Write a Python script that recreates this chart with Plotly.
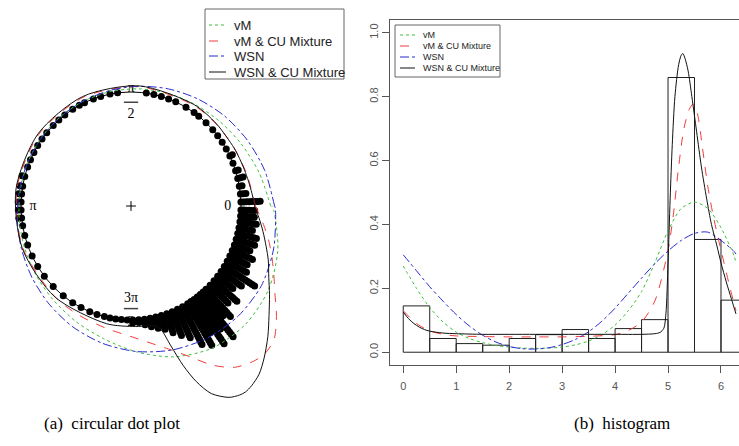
import math
import plotly.graph_objects as go

# ---------------- data ----------------
# histogram (bins of width 0.5 starting at 0)
bin_left = [0.0, 0.5, 1.0, 1.5, 2.0, 2.5, 3.0, 3.5, 4.0, 4.5, 5.0, 5.5, 6.0]
bin_density = [0.145, 0.043, 0.027, 0.022, 0.043, 0.055, 0.071, 0.043, 0.074, 0.102, 0.86, 0.353, 0.163]
bin_width = 0.5

# fitted densities (angle in radians, density)
vm_theta = [0, 0.25, 0.5, 0.75, 1.0, 1.25, 1.5, 1.75, 2.0, 2.25, 2.5, 2.75, 3.0, 3.25, 3.5, 3.75, 4.0,
            4.25, 4.5, 4.75, 5.0, 5.25, 5.5, 5.75, 6.0, 6.25, 6.283]
vm_dens = [0.27, 0.2, 0.14, 0.095, 0.063, 0.043, 0.03, 0.021, 0.016, 0.013, 0.012, 0.013, 0.016, 0.023,
           0.035, 0.055, 0.085, 0.13, 0.19, 0.28, 0.38, 0.45, 0.47, 0.45, 0.39, 0.3, 0.28]

vmcu_theta = [0, 0.25, 0.5, 0.75, 1.0, 1.5, 2.0, 2.5, 3.0, 3.5, 4.0, 4.25, 4.5, 4.75, 5.0, 5.1, 5.2, 5.3,
              5.4, 5.47, 5.55, 5.65, 5.75, 5.85, 5.95, 6.05, 6.15, 6.25, 6.283]
vmcu_dens = [0.13, 0.09, 0.067, 0.056, 0.051, 0.049, 0.048, 0.048, 0.048, 0.05, 0.055, 0.068, 0.095, 0.16,
             0.32, 0.43, 0.58, 0.7, 0.76, 0.776, 0.75, 0.64, 0.52, 0.43, 0.355, 0.285, 0.215, 0.15, 0.13]

wsn_theta = [0, 0.25, 0.5, 0.75, 1.0, 1.25, 1.5, 1.75, 2.0, 2.25, 2.5, 2.75, 3.0, 3.25, 3.5, 3.75, 4.0,
             4.25, 4.5, 4.75, 5.0, 5.25, 5.5, 5.75, 6.0, 6.25, 6.283]
wsn_dens = [0.305, 0.255, 0.205, 0.16, 0.118, 0.082, 0.053, 0.032, 0.018, 0.011, 0.01, 0.014, 0.024, 0.04,
            0.064, 0.097, 0.138, 0.185, 0.232, 0.277, 0.317, 0.35, 0.372, 0.376, 0.35, 0.315, 0.307]

wsncu_theta = [0, 0.1, 0.2, 0.3, 0.4, 0.5, 0.75, 1.0, 1.5, 2.0, 2.5, 3.0, 3.5, 4.0, 4.5, 4.75, 4.85, 4.92,
               4.96, 5.0, 5.04, 5.08, 5.13, 5.2, 5.25, 5.28, 5.32, 5.38, 5.45, 5.54, 5.63, 5.73, 5.82,
               5.92, 6.0, 6.1, 6.2, 6.283]
wsncu_dens = [0.126, 0.105, 0.09, 0.079, 0.071, 0.066, 0.06, 0.058, 0.056, 0.056, 0.056, 0.056, 0.056,
              0.056, 0.056, 0.058, 0.062, 0.075, 0.12, 0.28, 0.48, 0.65, 0.8, 0.9, 0.93, 0.935, 0.92, 0.88,
              0.8, 0.69, 0.58, 0.48, 0.4, 0.335, 0.28, 0.22, 0.165, 0.12]

# stacked dot plot: bin direction (degrees) and number of observations
dot_angle_deg = [2, 6, 10, 14, 18, 22, 26, 30, 34, 38, 42, 47, 52, 55, 60, 66, 70, 74, 78, 82,
                 97, 101, 106, 110, 115, 118, 122, 127, 131, 135, 140, 144, 148, 152, 156, 160, 165,
                 170, 174, 178, 182, 186, 190, 195, 200, 206, 212, 218, 225, 232, 238, 243, 248, 252,
                 256, 259, 262, 265, 268, 271, 274, 277, 280, 283, 286, 289, 292, 295, 298, 301, 303,
                 305, 307, 309, 311, 313, 316, 319, 322, 325, 328, 331, 334, 337, 340, 343, 346, 349,
                 352, 355, 358]
dot_count = [8, 3, 2, 3, 2, 1, 2, 1, 1, 1, 1, 1, 1, 1, 1, 1, 1, 1, 1, 1,
             1, 1, 1, 1, 1, 1, 1, 1, 1, 1, 1, 1, 1, 1, 1, 1, 2,
             2, 2, 2, 2, 2, 1, 1, 1, 1, 1, 1, 1, 1, 1, 1, 1, 1,
             1, 1, 1, 1, 1, 2, 2, 3, 4, 5, 6, 8, 10, 12, 16, 18, 14,
             20, 15, 20, 12, 14, 10, 12, 8, 10, 14, 9, 8, 9, 7, 8, 8, 6,
             7, 6, 6]
stack_step = 0.025

series_names = ["vM", "vM & CU Mixture", "WSN", "WSN & CU Mixture"]
series_theta = [vm_theta, vmcu_theta, wsn_theta, wsncu_theta]
series_dens = [vm_dens, vmcu_dens, wsn_dens, wsncu_dens]
series_color = ["#3cbf3c", "#f03c3c", "#2a2ad0", "#111111"]
series_dash = ["dot", "dash", "dashdot", "solid"]

# ---------------- figure ----------------
W, H = 739, 446
cx, cy, ux, uy = 131, 206, 110, 114   # centre of the circle (px) and px per unit
fig = go.Figure()

# polar-axis labels (drawn first so the dots cover them like the original)
lab_text = ["π", "2", "π", "0", "3π", "2"]
lab_x = [0, 0, -0.89, 0.88, 0, 0]
lab_y = [1.03, 0.80, 0, 0, -0.81, -1.02]
fig.add_trace(go.Scatter(x=lab_x, y=lab_y, mode="text", text=lab_text, showlegend=False,
                         textfont=dict(family="Liberation Serif", size=14, color="black"),
                         xaxis="x2", yaxis="y2", hoverinfo="skip"))

# stacked dots
dx, dy = [], []
for a, c in zip(dot_angle_deg, dot_count):
    for k in range(c):
        r = 1 + stack_step * k
        dx.append(r * math.cos(math.radians(a)))
        dy.append(r * math.sin(math.radians(a)))
fig.add_trace(go.Scatter(x=dx, y=dy, mode="markers", marker=dict(color="black", size=7),
                         showlegend=False, xaxis="x2", yaxis="y2"))
# centre cross
fig.add_trace(go.Scatter(x=[0], y=[0], mode="markers",
                         marker=dict(symbol="cross-thin", size=7, line=dict(color="black", width=1)),
                         showlegend=False, xaxis="x2", yaxis="y2"))

# densities wrapped around the circle (radius 1 + density)
for nm, th, dn, col, ds in zip(series_names, series_theta, series_dens, series_color, series_dash):
    px = [(1 + v) * math.cos(t) for t, v in zip(th, dn)]
    py = [(1 + v) * math.sin(t) for t, v in zip(th, dn)]
    fig.add_trace(go.Scatter(x=px, y=py, mode="lines",
                             line=dict(color=col, dash=ds, width=1, shape="spline", smoothing=0.8),
                             name=nm, showlegend=False, xaxis="x2", yaxis="y2"))

# histogram
fig.add_trace(go.Bar(x=[b + bin_width / 2 for b in bin_left], y=bin_density, width=bin_width,
                     marker=dict(color="rgba(0,0,0,0)", line=dict(color="#222", width=1)),
                     showlegend=False, xaxis="x", yaxis="y"))
for nm, th, dn, col, ds in zip(series_names, series_theta, series_dens, series_color, series_dash):
    fig.add_trace(go.Scatter(x=th, y=dn, mode="lines",
                             line=dict(color=col, dash=ds, width=1, shape="spline", smoothing=0.8),
                             name=nm, showlegend=False, xaxis="x", yaxis="y"))

fig.update_layout(
    width=W, height=H, margin=dict(l=0, r=0, t=0, b=0),
    paper_bgcolor="white", plot_bgcolor="white", showlegend=False,
    xaxis2=dict(domain=[0, 380 / W], range=[-cx / ux, (380 - cx) / ux], visible=False,
                fixedrange=True),
    yaxis2=dict(domain=[0, 1], range=[(cy - H) / uy, cy / uy], visible=False, fixedrange=True),
    xaxis=dict(domain=[390 / W, 1], range=[-0.25, 6.34], tickvals=[0, 1, 2, 3, 4, 5, 6],
               ticks="outside", ticklen=7, tickcolor="#555", showline=True, linecolor="#555",
               mirror=True, showgrid=False, zeroline=False, ticklabelstandoff=4,
               tickfont=dict(family="Liberation Sans", size=11, color="#555")),
    yaxis=dict(domain=[1 - 365 / H, 1 - 20 / H], range=[-0.04, 1.04],
               tickvals=[0, 0.2, 0.4, 0.6, 0.8, 1.0], ticktext=["0.0", "0.2", "0.4", "0.6", "0.8", "1.0"],
               tickangle=-90, ticks="outside", ticklen=7, tickcolor="#555", showline=True,
               linecolor="#555", showgrid=False, zeroline=False,
               tickfont=dict(family="Liberation Sans", size=11, color="#555")),
)

# unit circle
fig.add_shape(type="circle", xref="x2", yref="y2", x0=-1, x1=1, y0=-1, y1=1,
              line=dict(color="black", width=1), layer="below")
# fraction bars for pi/2 and 3pi/2
for yb in (0.91, -0.90):
    fig.add_shape(type="line", xref="x2", yref="y2", x0=-0.065, x1=0.065, y0=yb, y1=yb,
                  line=dict(color="#444", width=1.5))


def px2paper(x, y):
    return x / W, 1 - y / H


def draw_legend(box, sample_x, text_x, rows_y, fsize):
    x0, y0 = px2paper(box[0], box[1])
    x1, y1 = px2paper(box[2], box[3])
    fig.add_shape(type="rect", xref="paper", yref="paper", x0=x0, x1=x1, y0=y0, y1=y1,
                  line=dict(color="#666", width=1), fillcolor="white", layer="above")
    for nm, col, ds, ry in zip(series_names, series_color, series_dash, rows_y):
        a, b = px2paper(sample_x[0], ry)
        c, _ = px2paper(sample_x[1], ry)
        fig.add_shape(type="line", xref="paper", yref="paper", x0=a, x1=c, y0=b, y1=b,
                      line=dict(color=col, dash=ds, width=1))
        tx, ty = px2paper(text_x, ry)
        fig.add_annotation(text=nm, x=tx, y=ty, xref="paper", yref="paper", showarrow=False,
                           xanchor="left", yanchor="middle",
                           font=dict(family="Liberation Sans", size=fsize, color="#222"))


draw_legend((205, 9, 344, 79), (209, 226), 232, [25, 41, 56, 72], 13)
draw_legend((395, 25, 500, 77), (400, 415), 421, [35, 46, 57, 68], 9)

cap = dict(family="Liberation Serif", size=17, color="black")
fig.add_annotation(text="(a)  circular dot plot", x=112 / W, y=1 - 423 / H, xref="paper", yref="paper",
                   showarrow=False, font=cap, xanchor="center", yanchor="middle")
fig.add_annotation(text="(b)  histogram", x=622 / W, y=1 - 423 / H, xref="paper", yref="paper",
                   showarrow=False, font=cap, xanchor="center", yanchor="middle")

fig.write_html("out.html")
